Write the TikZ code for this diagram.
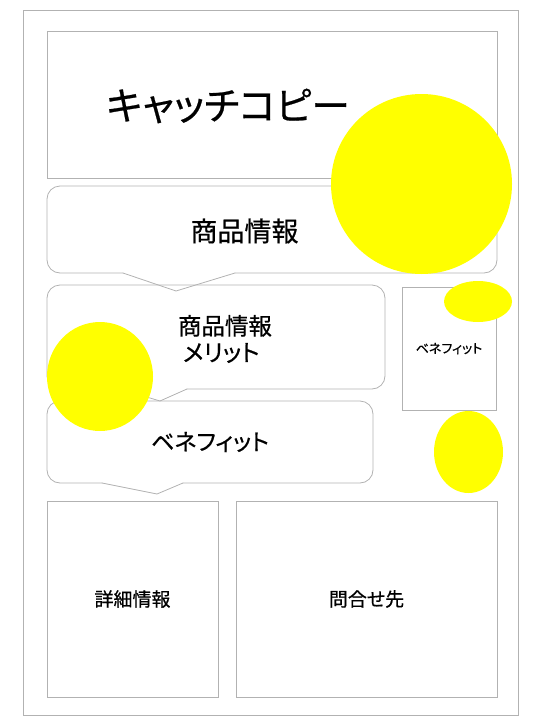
\documentclass[tikz,border=0pt]{standalone}
\usepackage{fontspec}
\setmainfont[RawFeature=+palt, FakeBold=0.6]{Noto Sans CJK JP}
\usepackage{xcolor}
\usetikzlibrary{shapes,positioning}
\definecolor{spotyellow}{RGB}{255,255,0}

\begin{document}
\begin{tikzpicture}[
      x=1pt, y=-1pt,
      frame/.style={draw=black!30, line width=0.8pt, line cap=round},
      panel/.style={frame, rectangle, inner sep=0pt},
      bubble/.style={frame, rounded corners=13pt},
      spot/.style={ellipse, fill=spotyellow, draw=none, inner sep=0pt},
      txt/.style={inner sep=0pt, font=\fontsize{#1}{#1}\selectfont}
    ]
      \useasboundingbox (0,0) rectangle (540,720);
      \draw [frame] (23,10) rectangle (518,715);

      % panels
      \node [panel, minimum width=450pt, minimum height=147pt] (catch) at (272,104.5) {};
      \node [txt=38.5] (catchtext) at (228,106) {キャッチコピー};
      \node [panel, minimum width=94pt, minimum height=123pt, font=\fontsize{13}{13}\selectfont] (side) at (449,348.5) {ベネフィット};
      \node [panel, minimum width=171pt, minimum height=196pt, font=\fontsize{19}{19}\selectfont] (detail) at (132.5,599) {詳細情報};
      \node [panel, minimum width=261pt, minimum height=196pt, font=\fontsize{19}{19}\selectfont] (contact) at (366.5,599) {問合せ先};

      % bubbles: rounded outline, then the tail
      \draw [bubble] (235,273) -- (497,273) -- (497,186) -- (47,186) -- (47,273) -- (123,273);
      \draw [frame] (123,273) -- (176,291) -- (235,273);
      \draw [bubble] (187,389) -- (385,389) -- (385,285) -- (47,285) -- (47,389) -- (120,389);
      \draw [frame] (120,389) -- (160,401) -- (187,389);
      \draw [bubble] (183,483) -- (373,483) -- (373,401) -- (47,401) -- (47,483) -- (102,483);
      \draw [frame] (102,483) -- (157,494) -- (183,483);
      \node [txt=27] (info) at (244.5,231) {商品情報};
      \node [txt=23.5, align=left] (merit) at (225,339) {商品情報\\[3pt]\hspace*{5pt}メリット};
      \node [txt=23] (benefit) at (210,442) {ベネフィット};

      % yellow spots
      \node [spot, minimum width=181pt, minimum height=180pt] (spotA) at (421.5,184) {};
      \node [spot, minimum width=68pt, minimum height=41pt] (spotB) at (478,301.5) {};
      \node [spot, minimum width=69pt, minimum height=82pt] (spotC) at (468.5,452) {};
      \node [spot, minimum width=106pt, minimum height=109pt] (spotD) at (100,376.5) {};
    \end{tikzpicture}
\end{document}
